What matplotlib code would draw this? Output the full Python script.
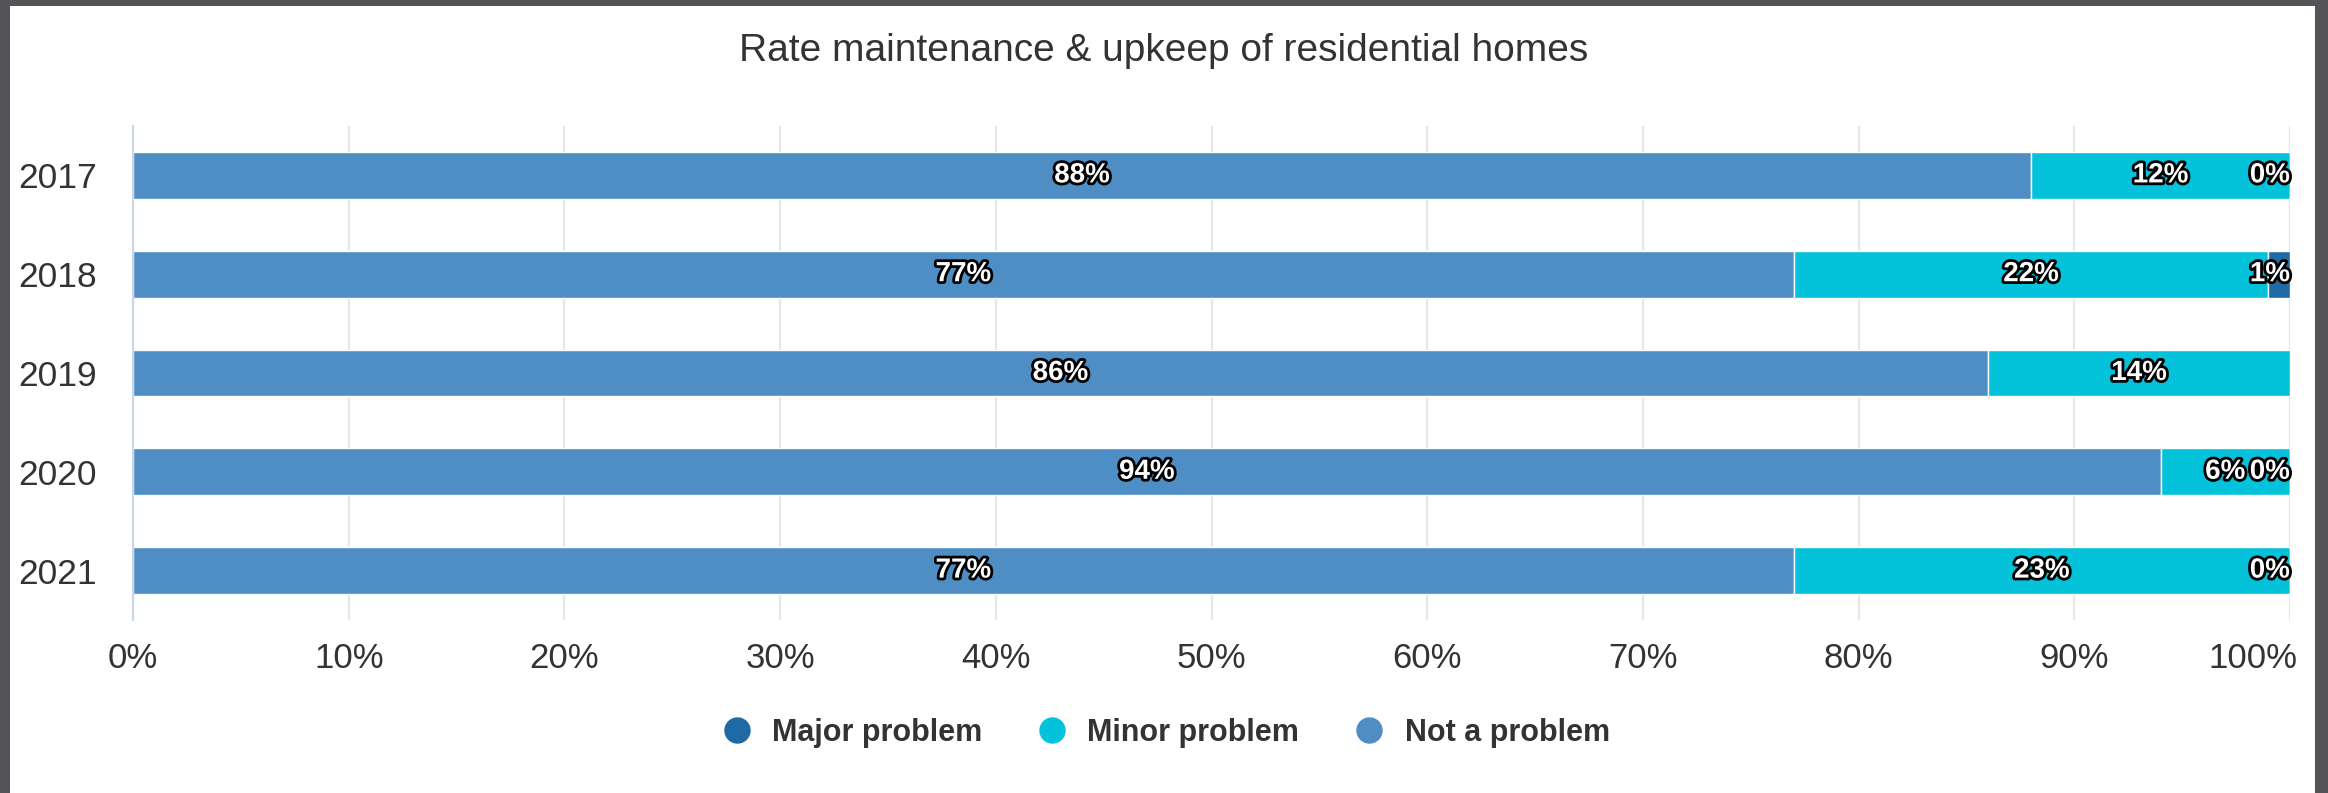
import numpy as np
import matplotlib
matplotlib.use("Agg")
import matplotlib.pyplot as plt
import matplotlib.patheffects as pe
from matplotlib.lines import Line2D
from matplotlib.patches import Rectangle
from matplotlib.transforms import ScaledTranslation

plt.rcParams['font.family'] = ['Liberation Sans', 'DejaVu Sans']

# Survey shares per year (percent of respondents)
years = ['2017', '2018', '2019', '2020', '2021']
not_a_problem = [88, 77, 86, 94, 77]
minor_problem = [12, 22, 14, 6, 23]
major_problem = [0, 1, np.nan, 0, 0]   # no answer recorded in 2019

series_names = ['Major problem', 'Minor problem', 'Not a problem']
series_colors = ['#1f6aa5', '#05c2db', '#4e8ec4']
x_ticks = list(range(0, 101, 10))

W, H = 2328, 793
fig = plt.figure(figsize=(W / 100, H / 100), dpi=100, facecolor='#545358')
fig.add_artist(Rectangle((10 / W, 0), (2315 - 10) / W, 1 - 6 / H,
                         transform=fig.transFigure, facecolor='white',
                         edgecolor='none', zorder=0))

ax = fig.add_axes([133 / W, 1 - 620 / H, (2290 - 133) / W, (620 - 126) / H])

ypos = np.arange(len(years))
not_arr = np.array(not_a_problem, dtype=float)
minor_arr = np.array(minor_problem, dtype=float)
major_arr = np.array(major_problem, dtype=float)

stack = [
    (not_arr, np.zeros(len(years)), series_colors[2]),
    (minor_arr, not_arr, series_colors[1]),
    (major_arr, not_arr + minor_arr, series_colors[0]),
]

bar_h = 0.475
labels = []
for vals, lefts, color in stack:
    ok = ~np.isnan(vals)
    ax.barh(ypos[ok], vals[ok], left=lefts[ok], height=bar_h, color=color,
            edgecolor='white', linewidth=1.0, zorder=2)
    for y, v, l in zip(ypos[ok], vals[ok], lefts[ok]):
        t = ax.text(l + v / 2, y, f"{v:.0f}%", ha='center', va='center',
                    color='white', fontsize=20, fontweight='bold', zorder=4,
                    path_effects=[pe.withStroke(linewidth=4, foreground='black')])
        labels.append(t)

ax.set_xlim(0, 100)
ax.set_ylim(len(years) - 0.5, -0.5)
ax.set_yticks(ypos)
ax.set_yticklabels(years)
ax.set_xticks(x_ticks)
ax.set_xticklabels([f"{v}%" for v in x_ticks])

ax.tick_params(axis='y', length=0, pad=26, labelsize=25.5, labelcolor='#333333')
ax.tick_params(axis='x', length=0, pad=16, labelsize=25, labelcolor='#333333')

ax.set_axisbelow(True)
ax.xaxis.grid(True, color='#e6e6e6', linewidth=1.5)
for side in ['top', 'right', 'bottom']:
    ax.spines[side].set_visible(False)
ax.spines['left'].set_color('#ccd6eb')
ax.spines['left'].set_linewidth(1.5)

# keep the last tick label inside the plot area
last = ax.get_xticklabels()[-1]
last.set_horizontalalignment('right')
last.set_transform(last.get_transform() + ScaledTranslation(5 / 72, 0, fig.dpi_scale_trans))

# labels that run past the right edge get pushed back inside
renderer = fig.canvas.get_renderer()
ax_right = ax.get_window_extent(renderer).x1
for t in labels:
    if t.get_window_extent(renderer).x1 > ax_right:
        t.set_x(100)
        t.set_horizontalalignment('right')

fig.text(1164 / W, 1 - 51 / H, 'Rate maintenance & upkeep of residential homes',
         ha='center', va='center', fontsize=28, color='#333333')

handles = [Line2D([], [], linestyle='none', marker='o', markersize=18,
                  markerfacecolor=c, markeredgecolor=c) for c in series_colors]
leg = fig.legend(handles, series_names, loc='center', ncol=3, frameon=False,
                 bbox_to_anchor=(1167 / W, 1 - 733 / H),
                 prop={'size': 22, 'weight': 'bold'},
                 handlelength=0.8, handletextpad=0.75, columnspacing=1.9)
for txt in leg.get_texts():
    txt.set_color('#333333')

fig.savefig('out.png', dpi=100, facecolor=fig.get_facecolor())
